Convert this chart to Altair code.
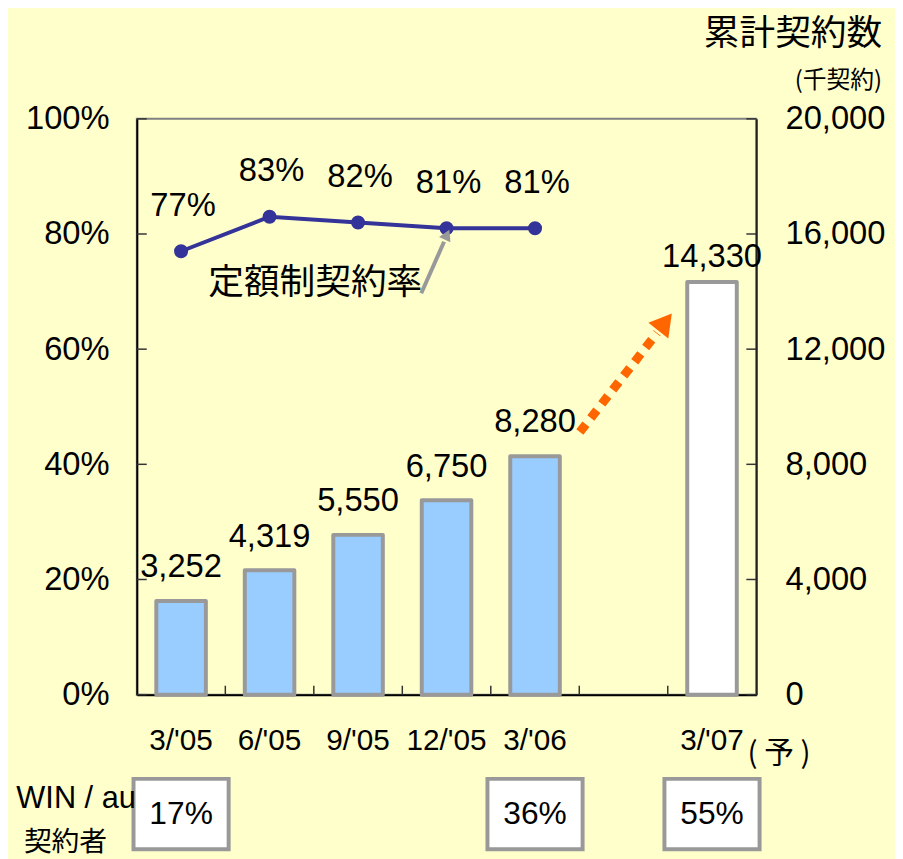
import altair as alt
import pandas as pd

# ---------------- data ----------------
periods = ["3/'05", "6/'05", "9/'05", "12/'05", "3/'06", " ", "3/'07"]
actual_periods = ["3/'05", "6/'05", "9/'05", "12/'05", "3/'06"]
actual_contracts = [3252, 4319, 5550, 6750, 8280]
forecast_periods = ["3/'07"]
forecast_contracts = [14330]
flat_rate_pct = [77, 83, 82, 81, 81]
win_periods = ["3/'05", "3/'06", "3/'07"]
win_share = ["17%", "36%", "55%"]
pct_ticks = [0, 20, 40, 60, 80, 100]
count_ticks = [0, 4000, 8000, 12000, 16000, 20000]
boundary_periods = periods[1:]

W, H = 625, 581
NUM_FONT = "Liberation Sans, Arial, sans-serif"
CJK_FONT = "Noto Sans CJK JP, sans-serif"

bars_df = pd.DataFrame({
    "period": actual_periods + forecast_periods,
    "contracts": actual_contracts + forecast_contracts,
    "kind": ["actual"] * len(actual_periods) + ["forecast"] * len(forecast_periods),
})
actual_df = bars_df[bars_df.kind == "actual"]
forecast_df = bars_df[bars_df.kind == "forecast"]
rate_df = pd.DataFrame({"period": actual_periods, "rate": flat_rate_pct})
win_df = pd.DataFrame({"period": win_periods, "share": win_share})
pct_df = pd.DataFrame({"v": pct_ticks})
cnt_df = pd.DataFrame({"v": count_ticks})
bnd_df = pd.DataFrame({"period": boundary_periods})

xscale = alt.Scale(domain=periods, paddingInner=0, paddingOuter=0)
pct_scale = alt.Scale(domain=[0, 100], nice=False, zero=True)
cnt_scale = alt.Scale(domain=[0, 20000], nice=False, zero=True)

x_axis = alt.Axis(labelAngle=0, ticks=False, tickSize=0, domain=True, domainColor="#000000",
                  domainWidth=2, labelFont=NUM_FONT, labelFontSize=30, labelColor="#000000",
                  labelPadding=31, labelBaseline="top", grid=False, title=None)
left_axis = alt.Axis(orient="left", values=pct_ticks, labelExpr="datum.value + '%'", ticks=False,
                     tickSize=0, domain=True, domainColor="#000000", domainWidth=2, grid=False,
                     labelFont=NUM_FONT, labelFontSize=33, labelColor="#000000",
                     labelPadding=28, title=None)
right_axis = alt.Axis(orient="right", values=count_ticks, labelExpr="format(datum.value, ',')",
                      ticks=False, tickSize=0,
                      domain=True, domainColor="#222222", domainWidth=2, grid=False,
                      labelFont=NUM_FONT, labelFontSize=33, labelColor="#000000",
                      labelPadding=29, title=None)


def X(**kw):
    return alt.X("period:N", scale=xscale, sort=periods, axis=x_axis, title=None, **kw)


def YL(field):
    return alt.Y(field, scale=pct_scale, axis=left_axis, title=None)


def YR(field):
    return alt.Y(field, scale=cnt_scale, axis=right_axis, title=None)


# ---------------- left (rate) group ----------------
line = alt.Chart(rate_df).mark_line(color="#333399", strokeWidth=4).encode(
    x=X(), y=YL("rate:Q"))
pts = alt.Chart(rate_df).mark_circle(color="#333399", size=200, opacity=1).encode(
    x=X(), y=YL("rate:Q"))
rate_lbl = alt.Chart(rate_df).transform_calculate(lbl="datum.rate + '%'").mark_text(
    font=NUM_FONT, fontSize=33, dy=-46, dx=2, baseline="middle", color="#000000").encode(
    x=X(), y=YL("rate:Q"), text="lbl:N")
left_ticks = alt.Chart(pct_df).mark_rule(color="#333333", strokeWidth=1.5).encode(
    x=alt.value(0), x2=alt.value(10), y=YL("v:Q"))

left_group = alt.layer(line, left_ticks, pts, rate_lbl)

# ---------------- right (contracts) group ----------------
bars = alt.Chart(bars_df).mark_bar(width=50, stroke="#999999", strokeWidth=4,
                                   strokeJoin="round").encode(
    x=X(), y=YR("contracts:Q"),
    fill=alt.Fill("kind:N", scale=alt.Scale(domain=["actual", "forecast"],
                                            range=["#99CCFF", "#FFFFFF"]), legend=None))
act_lbl = alt.Chart(actual_df).mark_text(font=NUM_FONT, fontSize=33, dy=-34,
                                         baseline="middle", color="#000000").encode(
    x=X(), y=YR("contracts:Q"), text=alt.Text("contracts:Q", format=","))
fc_lbl = alt.Chart(forecast_df).mark_text(font=NUM_FONT, fontSize=33, dy=-25,
                                          baseline="middle", color="#000000").encode(
    x=X(), y=YR("contracts:Q"), text=alt.Text("contracts:Q", format=","))
right_ticks = alt.Chart(cnt_df).mark_rule(color="#333333", strokeWidth=1.5).encode(
    x=alt.value(W - 10), x2=alt.value(W), y=YR("v:Q"))

right_group = alt.layer(bars, act_lbl, fc_lbl, right_ticks)

bottom_ticks = alt.Chart(bnd_df).mark_rule(color="#333333", strokeWidth=1.5).encode(
    x=X(bandPosition=0), y=alt.value(H - 9), y2=alt.value(H))

# ---------------- boxes below the axis ----------------
boxes = alt.Chart(win_df).mark_bar(width=96, fill="#FFFFFF", stroke="#999999", strokeWidth=4).encode(
    x=X(), y=alt.value(666), y2=alt.value(737))
box_txt = alt.Chart(win_df).mark_text(font=NUM_FONT, fontSize=32, baseline="middle",
                                      color="#000000").encode(
    x=X(), y=alt.value(702), text="share:N")

# ---------------- annotations ----------------
one = alt.Data(values=[{}])


def txt(s, x, y, size, font=CJK_FONT, align="center"):
    return alt.Chart(one).mark_text(text=s, font=font, fontSize=size, align=align,
                                    baseline="middle", color="#000000").encode(
        x=alt.value(x), y=alt.value(y))


ann_title = txt("累計契約数", 752, -86, 36, align="right")
ann_unit = txt("(千契約)", 752, -38, 24, align="right")
ann_fc = txt("(  予  )", 648, 641, 30)
ann_win = txt("WIN / au", -1, 686, 31, font=NUM_FONT, align="right")
ann_win2 = txt("契約者", -72, 731, 28)
ann_rate = txt("定額制契約率", 180, 166, 36)

gray_line = alt.Chart(one).mark_rule(color="#999999", strokeWidth=4).encode(
    x=alt.value(287), y=alt.value(176), x2=alt.value(310), y2=alt.value(124))
gray_head = alt.Chart(one).mark_point(shape="triangle-up", filled=True, color="#999999",
                                      size=160, angle=25, opacity=1).encode(
    x=alt.value(313), y=alt.value(117))

orange_line = alt.Chart(one).mark_rule(color="#FF6600", strokeWidth=9,
                                       strokeDash=[10, 8]).encode(
    x=alt.value(447), y=alt.value(316), x2=alt.value(525), y2=alt.value(216))
orange_head = alt.Chart(one).mark_point(shape="triangle-up", filled=True, color="#FF6600",
                                        size=650, angle=38, opacity=1).encode(
    x=alt.value(533), y=alt.value(205))

chart = alt.layer(
    right_group, left_group, bottom_ticks, boxes, box_txt,
    gray_line, gray_head, orange_line, orange_head,
    ann_title, ann_unit, ann_fc, ann_win, ann_win2, ann_rate,
).resolve_scale(y="independent").properties(
    width=W, height=H,
    autosize=alt.AutoSizeParams(type="none"),
    padding={"left": 130, "top": 108, "right": 140, "bottom": 162},
    background="#FFFFCC",
).configure_view(stroke="#808080", strokeWidth=2)

chart.save("out.html", embed_options={"renderer": "svg", "actions": False})
